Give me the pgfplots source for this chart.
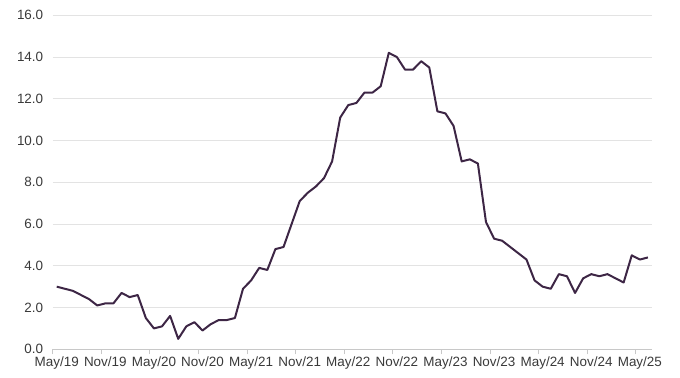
\documentclass[border=0pt]{standalone}
\usepackage{pgfplots}
\pgfplotsset{compat=1.18}
\usepackage{fontspec}
\setmainfont{Liberation Sans}
\definecolor{lineP}{HTML}{3D2645}
\definecolor{gridG}{HTML}{E3E3E3}
\definecolor{axG}{HTML}{C8C8C8}
\definecolor{txt}{HTML}{3A3A3A}
\begin{document}
\begin{tikzpicture}[x=1bp,y=1bp]
\useasboundingbox (-52.7bp,-28.7bp) rectangle (627.3bp,349.3bp);
\begin{axis}[
  at={(0,0)}, anchor=south west,
  scale only axis, width=599.3bp, height=334bp,
  xmin=-0.5, xmax=73.5, ymin=0, ymax=16,
  axis line style={draw=none},
  axis x line*=bottom,
  ytick={0,2,...,16},
  yticklabel={\pgfmathprintnumber[fixed,fixed zerofill,precision=1]{\tick}},
  /pgf/number format/assume math mode=true,
  ymajorgrids, grid style={gridG, line width=0.8pt},
  xtick={0,6,...,72},
  xticklabels={May/19,Nov/19,May/20,Nov/20,May/21,Nov/21,May/22,Nov/22,May/23,Nov/23,May/24,Nov/24,May/25},
  major tick length=0pt,
  extra x ticks={-0.5,5.5,11.5,17.5,23.5,29.5,35.5,41.5,47.5,53.5,59.5,65.5,71.5},
  extra x tick labels={},
  extra x tick style={major tick length=5bp, tick style={axG, line width=0.8pt}, tick align=outside, grid=none},
  ticklabel style={font=\fontsize{13.5}{15}\selectfont, text=txt},
  yticklabel style={anchor=east, xshift=-6bp},
  xticklabel style={anchor=north, yshift=-4bp},
  clip=false,
]
\draw[axG, line width=0.8pt] (rel axis cs:0,0) -- (rel axis cs:1,0);
\addplot[lineP, line width=2bp, line join=round, mark=none] coordinates {
(0,3.0)(1,2.9)(2,2.8)(3,2.6)(4,2.4)(5,2.1)(6,2.2)(7,2.2)(8,2.7)(9,2.5)
(10,2.6)(11,1.5)(12,1.0)(13,1.1)(14,1.6)(15,0.5)(16,1.1)(17,1.3)(18,0.9)(19,1.2)
(20,1.4)(21,1.4)(22,1.5)(23,2.9)(24,3.3)(25,3.9)(26,3.8)(27,4.8)(28,4.9)(29,6.0)
(30,7.1)(31,7.5)(32,7.8)(33,8.2)(34,9.0)(35,11.1)(36,11.7)(37,11.8)(38,12.3)(39,12.3)
(40,12.6)(41,14.2)(42,14.0)(43,13.4)(44,13.4)(45,13.8)(46,13.5)(47,11.4)(48,11.3)(49,10.7)
(50,9.0)(51,9.1)(52,8.9)(53,6.1)(54,5.3)(55,5.2)(56,4.9)(57,4.6)(58,4.3)(59,3.3)
(60,3.0)(61,2.9)(62,3.6)(63,3.5)(64,2.7)(65,3.4)(66,3.6)(67,3.5)(68,3.6)(69,3.4)
(70,3.2)(71,4.5)(72,4.3)(73,4.4)
};
\end{axis}
\end{tikzpicture}
\end{document}
